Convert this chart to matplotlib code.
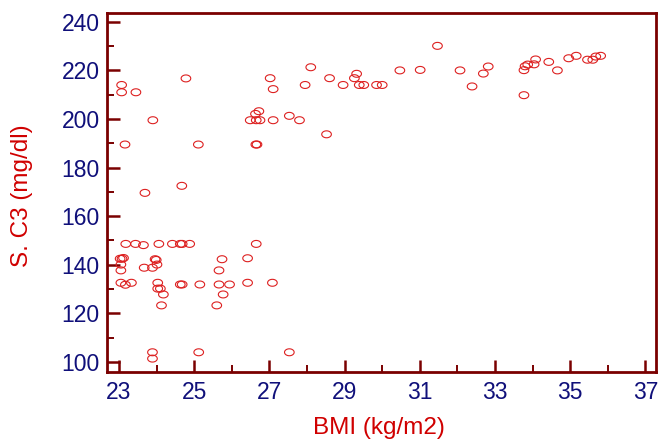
import numpy as np
import matplotlib
matplotlib.use("Agg")
import matplotlib.pyplot as plt
from matplotlib.path import Path
from matplotlib.ticker import MultipleLocator

bmi = [
    23.07, 23.07, 23.45, 24.78, 23.90, 23.16, 25.11, 23.69, 24.67,
    27.02, 27.10, 26.49, 26.63, 26.72, 26.65, 26.75, 27.10, 27.53, 27.80,
    26.64, 26.67, 28.52, 27.95, 28.10, 28.60, 28.96, 29.26, 29.32, 29.39,
    29.51, 29.85, 30.00, 30.47, 31.01, 31.47, 32.07, 32.39, 32.69, 32.82,
    33.77, 33.80, 33.87, 33.77, 34.04, 34.08, 34.43, 34.66, 34.96, 35.16,
    35.46, 35.60, 35.68, 35.81,
    23.18, 23.44, 23.65, 24.06, 24.42, 24.63, 24.68, 24.88, 26.65,
    23.03, 23.08, 23.12, 23.05, 23.05, 23.67, 23.89, 23.96, 23.99, 24.01,
    23.05, 23.17, 23.33, 24.03, 24.03, 24.10, 24.18, 24.13, 24.63, 24.68,
    25.15, 25.66, 25.94, 25.66, 25.74, 25.77, 25.60, 26.42, 26.42, 27.08,
    23.89, 23.89, 25.12, 27.53,
]
c3 = [
    214.0, 211.0, 211.0, 216.7, 199.5, 189.5, 189.5, 169.6, 172.5,
    216.8, 212.3, 199.5, 202.1, 203.2, 199.5, 199.5, 199.5, 201.3, 199.5,
    189.5, 189.5, 193.7, 214.0, 221.3, 216.8, 214.0, 216.8, 218.6, 214.0,
    214.0, 214.0, 214.0, 220.0, 220.2, 230.1, 220.0, 213.4, 218.7, 221.6,
    220.1, 221.7, 222.4, 209.8, 222.5, 224.5, 223.5, 220.0, 225.0, 226.0,
    224.4, 224.4, 225.7, 226.0,
    148.6, 148.6, 148.1, 148.6, 148.6, 148.6, 148.6, 148.6, 148.6,
    142.5, 142.5, 142.8, 140.1, 137.7, 138.8, 138.8, 142.3, 142.0, 140.1,
    132.6, 131.8, 132.6, 132.6, 130.2, 130.2, 127.8, 123.3, 131.9, 131.9,
    131.9, 131.9, 131.9, 137.7, 142.3, 127.8, 123.3, 142.7, 132.6, 132.6,
    104.0, 101.4, 104.0, 104.0,
]

x_ticks = [23, 25, 27, 29, 31, 33, 35, 37]
y_ticks = [100, 120, 140, 160, 180, 200, 220, 240]

spine_col = "#7a0000"
tick_lab_col = "#10107a"
label_col = "#d00000"
pt_col = "#dd2020"

plt.rcParams["font.family"] = ["Liberation Sans", "DejaVu Sans"]

fig = plt.figure(figsize=(6.62, 4.40), dpi=100)
L, R, T, B = 106.7, 656.0, 12.7, 371.7
ax = fig.add_axes([L / 662, 1 - B / 440, (R - L) / 662, (B - T) / 440])

t = np.linspace(0, 2 * np.pi, 60)
ell = Path(np.column_stack([np.cos(t), 0.72 * np.sin(t)]), closed=True)

ax.scatter(bmi, c3, marker=ell, s=48, facecolors="none", edgecolors=pt_col,
           linewidths=0.8, zorder=3)

pxu_x = 37.6
x23 = 119.0
ax.set_xlim(23 - (x23 - L) / pxu_x, 23 + (R - x23) / pxu_x)
pxu_y = 2.43
y100 = 362.0
ax.set_ylim(100 - (B - y100) / pxu_y, 100 + (y100 - T) / pxu_y)

ax.set_xticks(x_ticks)
ax.set_yticks(y_ticks)
ax.xaxis.set_minor_locator(MultipleLocator(1))
ax.yaxis.set_minor_locator(MultipleLocator(10))

for s in ax.spines.values():
    s.set_color(spine_col)
    s.set_linewidth(2.0)

ax.tick_params(which="major", direction="in", length=9, width=1.8,
               color=spine_col, labelcolor=tick_lab_col, labelsize=16.5)
ax.tick_params(axis="x", which="major", pad=6.5)
ax.tick_params(axis="y", which="major", pad=5)
ax.tick_params(which="minor", direction="in", length=5, width=1.4,
               color=spine_col)
ax.tick_params(top=False, right=False, which="both")

ax.set_xlabel("BMI (kg/m2)", color=label_col, fontsize=17.5)
ax.set_ylabel("S. C3 (mg/dl)", color=label_col, fontsize=17.5)
ax.xaxis.set_label_coords(0.495, (B - 416.7) / (B - T))
ax.yaxis.set_label_coords((33.3 - L) / (R - L), 0.49)

fig.savefig("out.png", dpi=100)
